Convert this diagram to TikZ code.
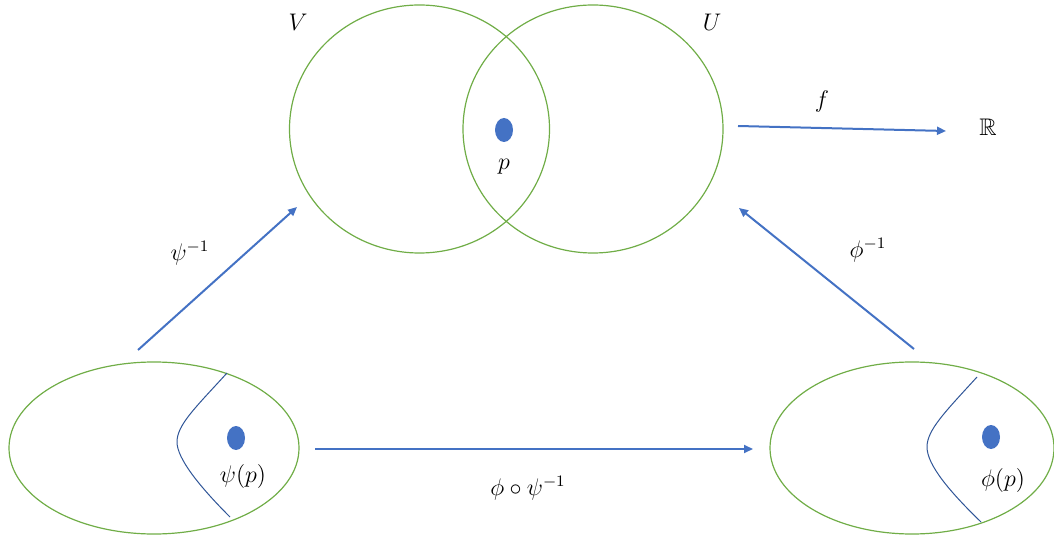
\documentclass[tikz,border=0pt]{standalone}
\usepackage{amsmath,amssymb}
\usepackage{xcolor}
\usepackage{tikz}
\usetikzlibrary{arrows.meta,positioning}
\definecolor{arrc}{HTML}{4472C4}
\definecolor{setc}{HTML}{70AD47}
\definecolor{curvc}{HTML}{2F5597}
\tikzset{
  ar/.style={-{Triangle[length=4.5pt,width=4pt]},line width=1pt,arrc},
  setline/.style={draw=setc,line width=0.6pt},
  bdry/.style={draw=curvc,line width=0.5pt},
  lbl/.style={font=\large,inner sep=1pt}
}

\begin{document}
\begin{tikzpicture}[x=0.5pt,y=-0.5pt]
\useasboundingbox (0,0) rectangle (1054,539);
% the two charts on the manifold
\coordinate (Vc) at (419.5,129);
\coordinate (Uc) at (593,129);
\draw[setline] (Vc) ellipse [x radius=130,y radius=124];
\draw[setline] (Uc) ellipse [x radius=130,y radius=124];
\fill[arrc] (504,130) ellipse [x radius=9,y radius=12];
\node[lbl] (V) at (298,22) {$V$};
\node[lbl] (U) at (712,22) {$U$};
\node[lbl] (p) at (504,167) {$p$};
% the two images in R^n
\coordinate (Lc) at (154,448);
\coordinate (Rc) at (912,448);
\draw[setline] (Lc) ellipse [x radius=145,y radius=86];
\draw[setline] (Rc) ellipse [x radius=142,y radius=86];
\draw[bdry] (227,373) .. controls (195,408) and (177,425) .. (177,442)
  .. controls (177,458) and (198,485) .. (230,517);
\draw[bdry] (977,377) .. controls (945,412) and (927,430) .. (927,447)
  .. controls (927,465) and (950,492) .. (981,522);
\fill[arrc] (236,438) ellipse [x radius=9,y radius=12];
\fill[arrc] (991,437) ellipse [x radius=9,y radius=12];
\node[lbl] (psip) at (243,476) {$\psi(p)$};
\node[lbl] (phip) at (1003,480) {$\phi(p)$};
\node[lbl] (R) at (988,127) {$\mathbb{R}$};
% maps
\coordinate (fs) at (738,126);
\coordinate (fe) at (946,131);
\coordinate (ps) at (138,350);
\coordinate (pe) at (297,207);
\coordinate (qs) at (914,349);
\coordinate (qe) at (739,208);
\coordinate (ts) at (315,449);
\coordinate (te) at (753,449);
\draw[ar] (fs) -- (fe);
\draw[ar] (ps) -- (pe);
\draw[ar] (qs) -- (qe);
\draw[ar] (ts) -- (te);
\node[lbl] (flbl) at (822,102) {$f$};
\node[lbl] (psilbl) at (190,253) {$\psi^{-1}$};
\node[lbl] (philbl) at (868,250) {$\phi^{-1}$};
\node[lbl] (trlbl) at (528,488) {$\phi\circ\psi^{-1}$};
\end{tikzpicture}
\end{document}
